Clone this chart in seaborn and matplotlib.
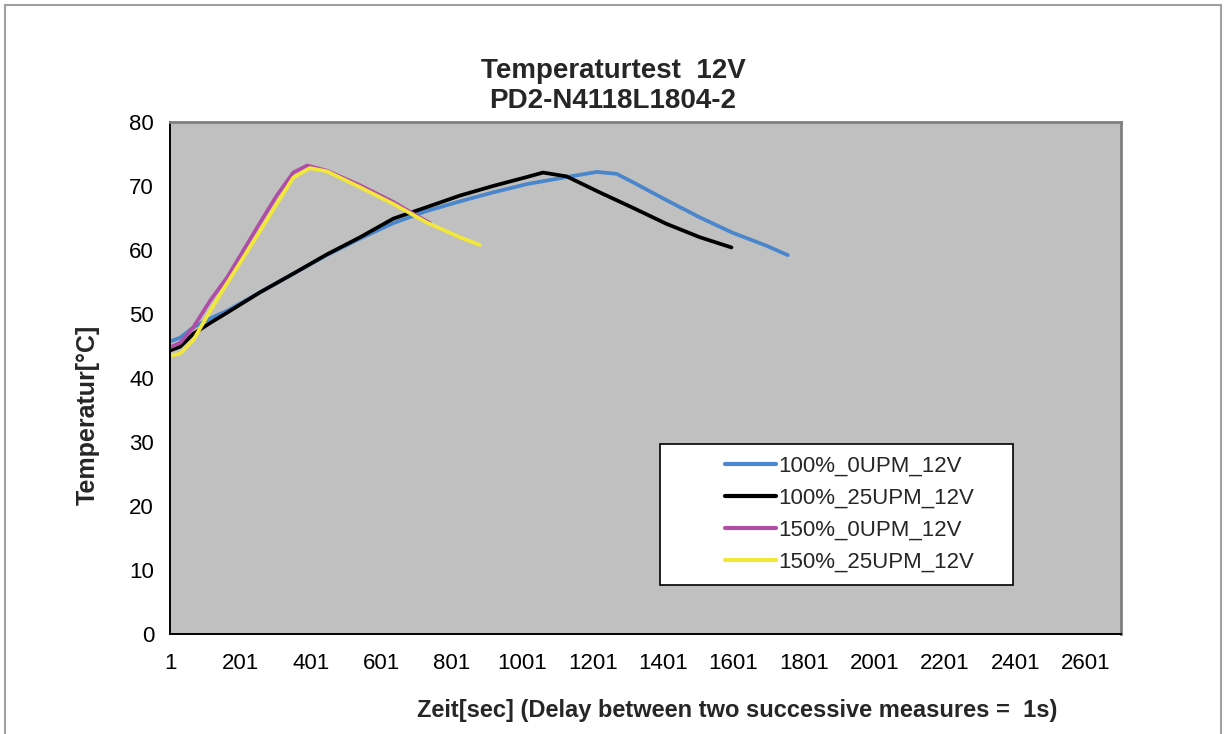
import numpy as np
import pandas as pd
import matplotlib
matplotlib.use("Agg")
import matplotlib.pyplot as plt
import seaborn as sns
from matplotlib.patches import Rectangle
from matplotlib.lines import Line2D

# ---------------- data ----------------
series_names = ["100%_0UPM_12V", "100%_25UPM_12V", "150%_0UPM_12V", "150%_25UPM_12V"]

x_100_0 = [1, 30, 67, 115, 163, 257, 351, 446, 541, 635, 730, 824, 918, 1014, 1127, 1213, 1269, 1315, 1410, 1505, 1598, 1693, 1755]
y_100_0 = [45.7, 46.3, 47.9, 49.3, 50.5, 53.4, 56.3, 59.2, 61.8, 64.2, 66.1, 67.6, 69.0, 70.3, 71.4, 72.2, 71.9, 70.6, 67.8, 65.1, 62.7, 60.7, 59.2]

x_100_25 = [1, 30, 67, 115, 163, 257, 351, 446, 541, 635, 730, 824, 918, 1014, 1060, 1127, 1221, 1315, 1410, 1505, 1595]
y_100_25 = [44.3, 44.9, 46.9, 48.6, 50.2, 53.4, 56.3, 59.3, 62.0, 64.9, 66.7, 68.5, 70.0, 71.4, 72.1, 71.5, 69.0, 66.6, 64.1, 62.0, 60.4]

x_150_0 = [1, 30, 67, 115, 163, 209, 257, 304, 351, 390, 446, 541, 635, 700, 740]
y_150_0 = [44.8, 45.5, 47.9, 52.1, 55.7, 59.9, 64.3, 68.5, 72.1, 73.2, 72.4, 70.1, 67.5, 65.4, 64.2]

x_150_25 = [1, 30, 67, 115, 163, 209, 257, 304, 351, 398, 446, 541, 635, 730, 824, 880]
y_150_25 = [43.5, 43.8, 45.9, 50.5, 54.8, 58.8, 63.0, 67.2, 71.3, 72.8, 72.3, 69.8, 67.2, 64.3, 62.0, 60.8]

x_ticks = list(range(1, 2702, 100))
x_tick_labels = [str(v) if (v - 1) % 200 == 0 else "" for v in x_ticks]
y_ticks = [0, 10, 20, 30, 40, 50, 60, 70, 80]

title_text = "Temperaturtest  12V\nPD2-N4118L1804-2"
x_label = "Zeit[sec] (Delay between two successive measures =  1s)"
y_label = "Temperatur[°C]"

colors = ["#4A86CC", "#000000", "#B04DA6", "#F2E83A"]

frames = []
for name, xs, ys in zip(series_names,
                        [x_100_0, x_100_25, x_150_0, x_150_25],
                        [y_100_0, y_100_25, y_150_0, y_150_25]):
    frames.append(pd.DataFrame({"x": xs, "y": ys, "series": name}))
df = pd.concat(frames, ignore_index=True)

# ---------------- plot ----------------
sns.set_style("white")
plt.rcParams["font.family"] = ["Liberation Sans", "DejaVu Sans"]

W, H = 1227, 734
fig = plt.figure(figsize=(W / 100, H / 100), dpi=100)
fig.patch.set_facecolor("white")

L, R, T, B = 170, 1121, 122, 634
ax = fig.add_axes([L / W, 1 - B / H, (R - L) / W, (B - T) / H])
ax.set_facecolor("#C0C0C0")

sns.lineplot(data=df, x="x", y="y", hue="series", hue_order=series_names,
             palette=colors, estimator=None, linewidth=2.7, ax=ax,
             legend=False)

ax.set_xlim(1, 2697)
ax.set_ylim(0, 80)
ax.set_xticks(x_ticks)
ax.set_xticklabels(x_tick_labels, fontsize=16)
ax.set_yticks(y_ticks)
ax.set_yticklabels([str(v) for v in y_ticks], fontsize=16)
ax.tick_params(axis="both", direction="inout", length=11, width=1.3, colors="black",
               pad=6)
ax.tick_params(axis="x", pad=8)

for s in ["left", "bottom"]:
    ax.spines[s].set_color("black")
    ax.spines[s].set_linewidth(1.4)
for s in ["top", "right"]:
    ax.spines[s].set_color("#808080")
    ax.spines[s].set_linewidth(2.0)

ax.set_xlabel("")
ax.set_ylabel("")

# axis labels and title as figure text
fig.text(737 / W, 1 - 710 / H, x_label, ha="center", va="center",
         fontsize=17, fontweight="bold")
fig.text(88 / W, 1 - 415 / H, y_label, ha="center", va="center",
         rotation=90, fontsize=18, fontweight="bold")
fig.text(613 / W, 1 - 86 / H, title_text, ha="center", va="center",
         fontsize=20, fontweight="bold", linespacing=1.25)

# legend box
lx0, ly0, lx1, ly1 = 660, 444, 1013, 585
ax.add_patch(Rectangle(((lx0 - L) / (R - L), (B - ly1) / (B - T)),
                       (lx1 - lx0) / (R - L), (ly1 - ly0) / (B - T),
                       transform=ax.transAxes, facecolor="white",
                       edgecolor="black", linewidth=1.2, zorder=4))
handles = [Line2D([0], [0], color=c, linewidth=3) for c in colors]
leg = ax.legend(handles, series_names, loc="center left",
                bbox_to_anchor=((725 - L) / (R - L), (B - (ly0 + ly1) / 2) / (B - T)),
                frameon=False, fontsize=16, handlelength=2.3, handletextpad=0.1,
                labelspacing=0.5, borderpad=0, borderaxespad=0)
leg.set_zorder(5)

# figure border
for xs_, ys_ in [([5, 1221], [5, 5]), ([5, 5], [5, 734]), ([1221, 1221], [5, 734])]:
    fig.add_artist(Line2D([v / W for v in xs_], [1 - v / H for v in ys_],
                          color="#A0A0A0", linewidth=1.5, transform=fig.transFigure))

fig.savefig("out.png", dpi=100, facecolor="white")
